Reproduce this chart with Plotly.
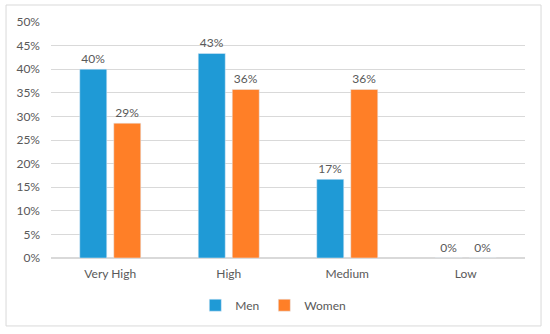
import plotly.graph_objects as go

categories = ["Very High", "High", "Medium", "Low"]
men = [0.40, 0.4333, 0.1667, 0.0]
women = [0.2857, 0.3571, 0.3571, 0.0]

font_family = "Lato, Open Sans, sans-serif"
grey = "#595959"

fig = go.Figure()
fig.add_trace(go.Bar(name="Men", x=categories, y=men, marker_color="#1F9AD6",
                     texttemplate="%{y:.0%}", textposition="outside",
                     textfont=dict(size=12, color=grey), cliponaxis=False))
fig.add_trace(go.Bar(name="Women", x=categories, y=women, marker_color="#FF7F27",
                     texttemplate="%{y:.0%}", textposition="outside",
                     textfont=dict(size=12, color=grey), cliponaxis=False))

fig.update_layout(
    width=550, height=334,
    margin=dict(l=51, r=25, t=22, b=76, autoexpand=False),
    paper_bgcolor="white", plot_bgcolor="white",
    barmode="group", bargap=0.426, bargroupgap=0.206,
    font=dict(family=font_family, size=12, color=grey),
    showlegend=True,
    legend=dict(orientation="h", x=0.469, xanchor="center", y=-0.2, yanchor="middle",
                font=dict(size=12, color=grey), itemwidth=30, traceorder="normal"),
    xaxis=dict(showgrid=False, ticks="", showline=False, automargin=False,
               ticklabelstandoff=7, tickfont=dict(size=12, color=grey)),
    yaxis=dict(range=[0, 0.5], dtick=0.05, tickformat=".0%", showgrid=True,
               gridcolor="#d9d9d9", gridwidth=1, zeroline=True, zerolinecolor="#d9d9d9",
               ticks="", ticklabelstandoff=10, automargin=False,
               tickfont=dict(size=12, color=grey), showline=False),
)
fig.add_shape(type="rect", xref="paper", yref="paper",
              x0=-0.0949, x1=1.0338, y0=-0.288, y1=1.072,
              line=dict(color="#d9d9d9", width=1), fillcolor="rgba(0,0,0,0)", layer="below")

fig.write_html("out.html", config={"displayModeBar": False},
               post_script="document.body.style.margin='0';")
